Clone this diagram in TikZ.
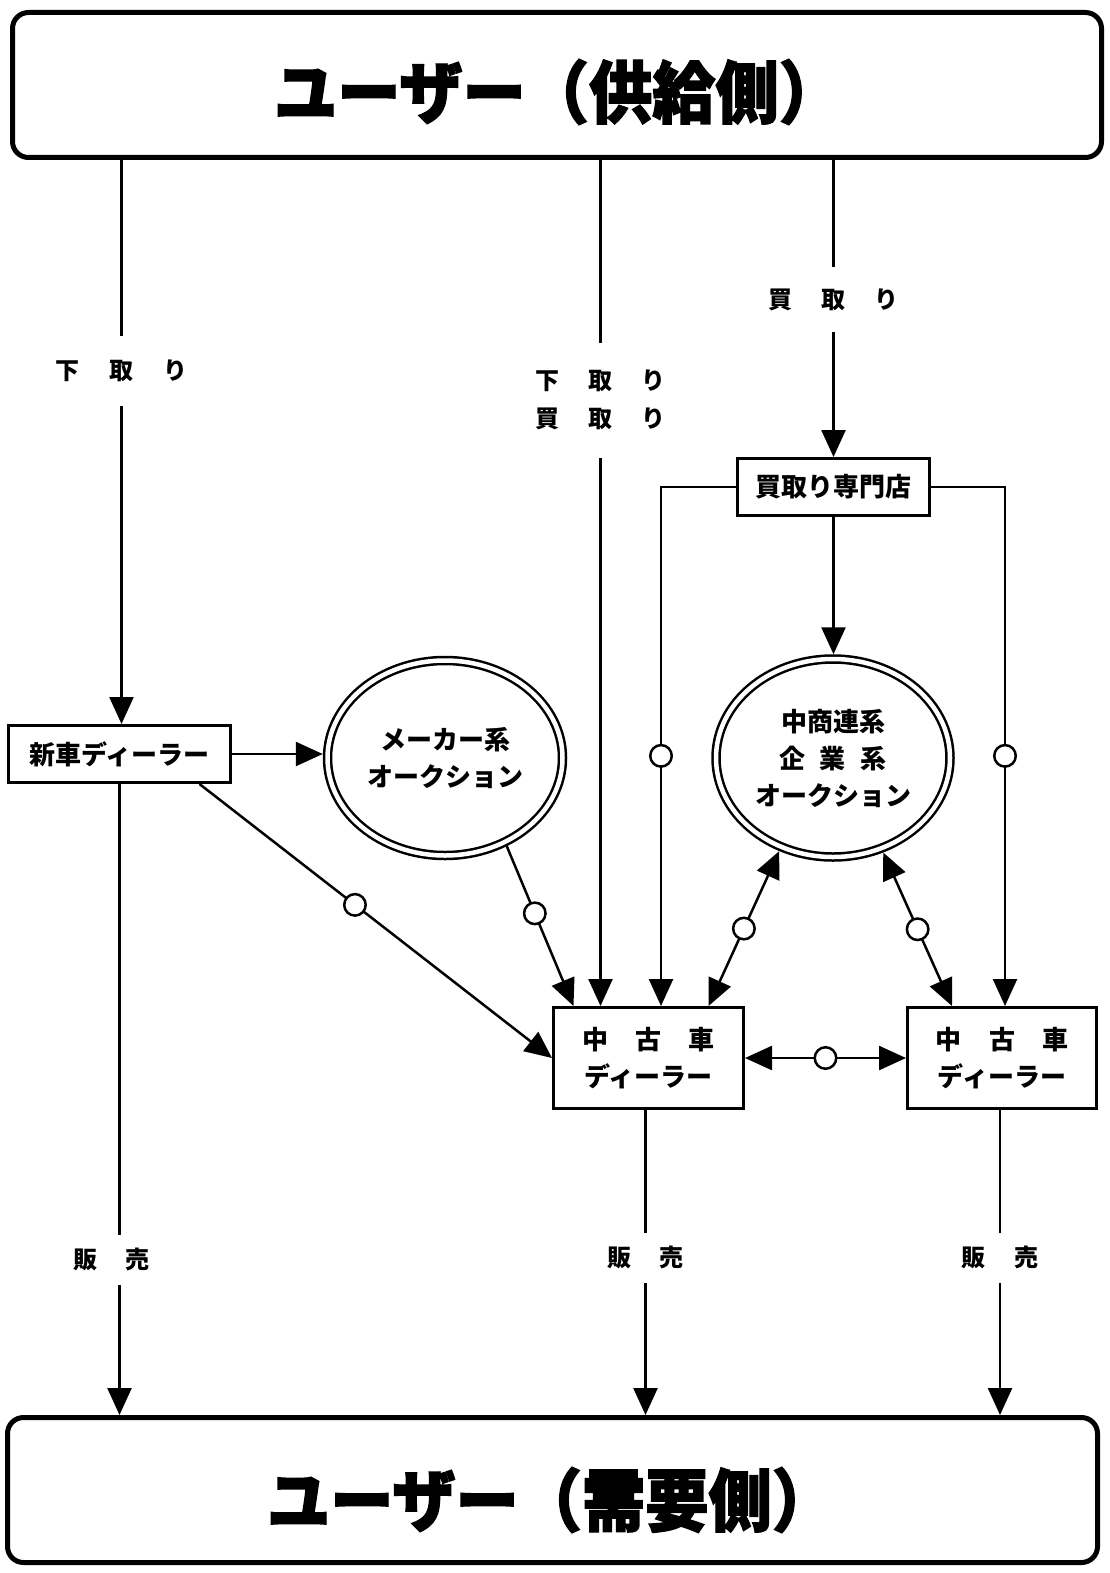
\documentclass[tikz,border=0pt]{standalone}
\usepackage{fontspec}
\setmainfont{Noto Sans CJK JP}
\newfontfamily\titlefont{Noto Sans CJK JP}[BoldFeatures={FakeBold=2}, FakeStretch=0.93]
\usetikzlibrary{arrows.meta,shapes.geometric,calc}
\newcommand\fsz[2]{\fontsize{#1pt}{#2pt}\selectfont}
\begin{document}
\begin{tikzpicture}[x=1pt,y=-1pt,
  >={Triangle[length=27pt,width=24pt]},
  conn/.style={line width=2.5pt},
  bigbox/.style={draw, line width=5pt, rounded corners=16pt, inner sep=0pt},
  pbox/.style={draw, line width=3pt, inner sep=0pt, align=center, font=\bfseries\fsz{26}{37}},
  auc/.style={ellipse, draw, double, double distance=4.5pt, line width=2.5pt, outer sep=4.75pt, inner sep=0pt, align=center, font=\bfseries\fsz{26}{37}},
  ring/.style={circle, draw, fill=white, line width=2.5pt, minimum size=21.5pt, inner sep=0pt},
  lab/.style={fill=white, inner xsep=2pt, inner ysep=0pt, align=center, font=\bfseries\fsz{24}{38}},
  ttl/.style={font=\titlefont\bfseries\fsz{68}{68}, inner sep=0pt}
]
\useasboundingbox (0,0) rectangle (1110,1573);
\fill[white] (0,0) rectangle (1110,1573);

% user boxes
\node[bigbox, minimum width=1089pt, minimum height=145pt] (sup) at (557,85) {};
\node[ttl] (supt) at (558,92) {ユーザー（供給側）};
\node[bigbox, minimum width=1090pt, minimum height=145pt] (dem) at (552.5,1490) {};
\node[ttl] (demt) at (551,1500) {ユーザー（需要側）};

% boxes
\node[pbox, minimum width=222pt, minimum height=57pt] (sd) at (119.5,754) {新車ディーラー};
\node[pbox, minimum width=192pt, minimum height=57pt] (kt) at (833.5,487) {買取り専門店};
\node[pbox, minimum width=190pt, minimum height=101pt] (ud1) at (648.5,1058) {中\hspace{1.05em}古\hspace{1.05em}車\\ディーラー};
\node[pbox, minimum width=189pt, minimum height=101pt] (ud2) at (1002,1058) {中\hspace{1.05em}古\hspace{1.05em}車\\ディーラー};

% auctions
\node[auc, minimum width=235pt, minimum height=195pt] (ma) at (445,758) {メーカー系\\オークション};
\node[auc, minimum width=234pt, minimum height=198pt] (ca) at (833,758) {中商連系\\企\hspace{0.55em}業\hspace{0.55em}系\\オークション};

% from supply side
\draw[conn,->] ([xshift=2pt]sd.north |- sup.south) -- ([xshift=2pt]sd.north)
  node[lab, pos=0.374, minimum height=70pt] (l1) {下\hspace{1.25em}取\hspace{1.25em}り};
\draw[conn,->] ([xshift=-48pt]ud1.north |- sup.south) -- ([xshift=-48pt]ud1.north)
  node[lab, pos=0.284, minimum height=115pt] (l2) {下\hspace{1.2em}取\hspace{1.2em}り\\買\hspace{1.2em}取\hspace{1.2em}り};
\draw[conn,->] (kt.north |- sup.south) -- (kt.north)
  node[lab, pos=0.471, minimum height=65pt] (l3) {買\hspace{1.2em}取\hspace{1.2em}り};

% buy-up shop
\draw[conn,->] (kt.south) -- (kt.south |- ca.north);
\draw[conn,->] (kt.west) -| ([xshift=12.5pt]ud1.north) node[ring, pos=0.759] (r1) {};
\draw[conn,->] (kt.east) -| ([xshift=3pt]ud2.north) node[ring, pos=0.759] (r2) {};

% new car dealer
\draw[conn,->] (sd.east) -- (sd.east -| ma.west);
\draw[conn,->] ([xshift=80pt]sd.south) -- (ud1.west) node[ring, pos=0.441] (r3) {};
\draw[conn,->] (ma.-55) -- ([xshift=-75pt]ud1.north) node[ring, pos=0.42] (r4) {};

% auction links
\draw[conn,<->] (ca.-120) -- ([xshift=60pt]ud1.north) node[ring, pos=0.5] (r5) {};
\draw[conn,<->] (ca.-62) -- ([xshift=-50pt]ud2.north) node[ring, pos=0.5] (r6) {};
\draw[conn,<->] (ud1.east) -- (ud2.west) node[ring, pos=0.5] (r7) {};

% sales
\draw[conn,->] (sd.south) -- (sd.south |- dem.north)
  node[lab, pos=0.754, minimum height=50pt, xshift=-8pt] (l4) {販\hspace{1.2em}売};
\draw[conn,->] ([xshift=-3pt]ud1.south) -- ([xshift=-3pt]ud1.south |- dem.north)
  node[lab, pos=0.485, minimum height=50pt] (l5) {販\hspace{1.2em}売};
\draw[conn,->] ([xshift=-2pt]ud2.south) -- ([xshift=-2pt]ud2.south |- dem.north)
  node[lab, pos=0.485, minimum height=50pt] (l6) {販\hspace{1.2em}売};
\end{tikzpicture}
\end{document}
